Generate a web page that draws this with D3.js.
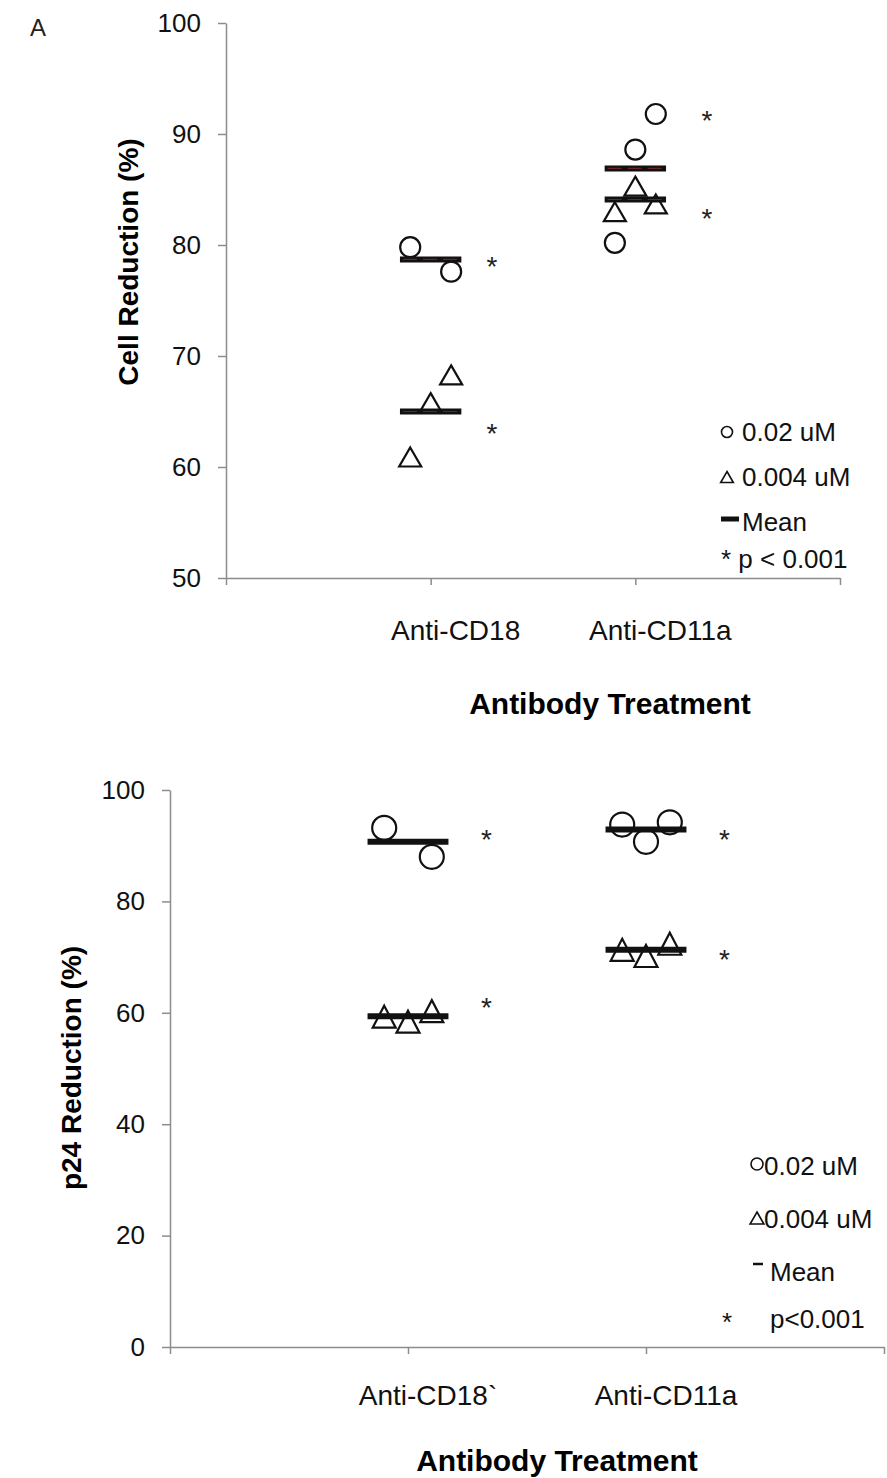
<!DOCTYPE html>
<html>
<head>
<meta charset="utf-8">
<script src="https://cdn.jsdelivr.net/npm/d3@7"></script>
<style>
  body { margin: 0; background: #fff; }
  svg { display: block; font-family: "Liberation Sans", Arial, sans-serif; }
</style>
</head>
<body>
<div id="chart"></div>
<script>
// ---- data ----
var cellCategories = ["Anti-CD18", "Anti-CD11a"];
var cellHigh = [[79.8, 77.6], [91.8, 88.6, 80.2]];      // 0.02 uM
var cellHighSlot = [[-1, 1], [1, 0, -1]];
var cellLow = [[68.3, 65.8, 60.9], [85.3, 83.7, 83.0]]; // 0.004 uM
var cellLowSlot = [[1, 0, -1], [0, 1, -1]];
var cellHighMean = [78.7, 86.9];
var cellLowMean = [65.0, 84.1];
var cellStars = [[78.5, 63.4], [91.6, 82.8]];
var cellTicks = [50, 60, 70, 80, 90, 100];

var p24Categories = ["Anti-CD18`", "Anti-CD11a"];
var p24High = [[93.2, 88.0], [93.8, 90.7, 94.2]];
var p24HighSlot = [[-1, 1], [-1, 0, 1]];
var p24Low = [[59.3, 58.4, 60.3], [71.3, 70.2, 72.4]];
var p24LowSlot = [[-1, 0, 1], [-1, 0, 1]];
var p24HighMean = [90.7, 92.9];
var p24LowMean = [59.4, 71.3];
var p24Stars = [[91.9, 61.8], [91.9, 70.4]];
var p24Ticks = [0, 20, 40, 60, 80, 100];

var width = 887, height = 1478;
var axisColor = "#8c8c8c";

var svg = d3.select("#chart").append("svg")
    .attr("width", width)
    .attr("height", height);
svg.append("rect").attr("width", width).attr("height", height).attr("fill", "#fff");

var triPath = function(w, h) { // triangle centred on its bounding box
  return "M0," + (-h / 2) + "L" + (w / 2) + "," + (h / 2) + "L" + (-w / 2) + "," + (h / 2) + "Z";
}

var drawPanel = function(o) {
  var g = svg.append("g");
  var x = d3.scaleLinear().domain([0, 3]).range(o.xRange);
  var y = d3.scaleLinear().domain(o.yDomain).range(o.yRange);

  // y axis
  var ya = g.append("g")
      .attr("transform", "translate(" + o.xRange[0] + ",0)")
      .call(d3.axisLeft(y).tickValues(o.ticks).tickSize(8).tickSizeOuter(0).tickPadding(17));
  ya.selectAll("path, line").attr("stroke", axisColor).attr("stroke-width", 1.5);
  ya.selectAll("text").attr("font-size", 26).attr("fill", "#111").attr("font-family", "Liberation Sans, Arial");

  // x axis (ticks only, labels are offset like the original)
  var xa = g.append("g")
      .attr("transform", "translate(0," + o.yRange[0] + ")")
      .call(d3.axisBottom(x).tickValues([0, 1, 2, 3]).tickSize(7).tickSizeOuter(0).tickFormat(""));
  xa.selectAll("path, line").attr("stroke", axisColor).attr("stroke-width", 1.5);

  g.selectAll(".cat")
    .data(o.categories)
    .enter().append("text")
      .attr("x", function(d, i) { return x(i + 1) + o.catShift; })
      .attr("y", o.catY)
      .attr("text-anchor", "middle")
      .attr("font-size", 28)
      .attr("fill", "#111")
      .text(function(d) { return d; });

  g.append("text")
    .attr("x", o.xTitle[0]).attr("y", o.xTitle[1])
    .attr("text-anchor", "middle")
    .attr("font-size", 30).attr("font-weight", "bold")
    .text("Antibody Treatment");

  g.append("text")
    .attr("transform", "translate(" + o.yTitle[0] + "," + o.yTitle[1] + ") rotate(-90)")
    .attr("text-anchor", "middle")
    .attr("font-size", 28).attr("font-weight", "bold")
    .text(o.yLabel);

  // markers
  o.categories.forEach(function(c, i) {
    var cx = i + 1;
    g.selectAll(".hi" + i)
      .data(o.high[i])
      .enter().append("circle")
        .attr("cx", function(d, j) { return x(cx + o.high_slot[i][j] * 0.1); })
        .attr("cy", function(d) { return y(d); })
        .attr("r", o.r)
        .attr("fill", "#fff").attr("stroke", "#111").attr("stroke-width", 2.2);
    g.selectAll(".lo" + i)
      .data(o.low[i])
      .enter().append("path")
        .attr("d", triPath(o.tw, o.th))
        .attr("transform", function(d, j) {
          return "translate(" + x(cx + o.low_slot[i][j] * 0.1) + "," + y(d) + ")";
        })
        .attr("fill", "#fff").attr("stroke", "#111").attr("stroke-width", 2.2);

    [o.highMean[i], o.lowMean[i]].forEach(function(m) {
      g.append("line")
        .attr("x1", x(cx - o.meanHalf)).attr("x2", x(cx + o.meanHalf))
        .attr("y1", y(m)).attr("y2", y(m))
        .attr("stroke", "#111").attr("stroke-width", 6);
      if (o.redDash) {
        g.append("line")
          .attr("x1", x(cx - o.meanHalf) + 3).attr("x2", x(cx + o.meanHalf) - 3)
          .attr("y1", y(m)).attr("y2", y(m))
          .attr("stroke", "#6a2424").attr("stroke-width", 1.2)
          .attr("stroke-dasharray", "14,6");
      }
    });

    g.selectAll(".star" + i)
      .data(o.stars[i])
      .enter().append("text")
        .attr("x", x(cx + o.starShift[i]))
        .attr("y", function(d) { return y(d) + 14; })
        .attr("text-anchor", "middle")
        .attr("font-size", 28).attr("fill", "#222")
        .text("*");
  });

  // legend
  var L = o.legend;
  g.append("circle").attr("cx", L.mx).attr("cy", L.rows[0]).attr("r", L.r)
    .attr("fill", "none").attr("stroke", "#111").attr("stroke-width", 1.6);
  g.append("path").attr("d", triPath(L.r * 2.3, L.r * 2))
    .attr("transform", "translate(" + L.mx + "," + L.rows[1] + ")")
    .attr("fill", "none").attr("stroke", "#111").attr("stroke-width", 1.6);
  g.append("line")
    .attr("x1", L.meanX[0]).attr("x2", L.meanX[1])
    .attr("y1", L.rows[2]).attr("y2", L.rows[2])
    .attr("stroke", "#111").attr("stroke-width", L.meanW);
  L.texts.forEach(function(t) {
    g.append("text").attr("x", t[0]).attr("y", t[1])
      .attr("font-size", 26).attr("fill", "#111").text(t[2]);
  });
}

svg.append("text").attr("x", 30).attr("y", 36).attr("font-size", 24).attr("fill", "#222").text("A");

drawPanel({
  categories: cellCategories,
  high: cellHigh, high_slot: cellHighSlot,
  low: cellLow, low_slot: cellLowSlot,
  highMean: cellHighMean, lowMean: cellLowMean,
  stars: cellStars, starShift: [0.3, 0.35],
  ticks: cellTicks,
  xRange: [226, 840], yDomain: [50, 100], yRange: [578, 23],
  catShift: 25, catY: 640,
  xTitle: [610, 714], yTitle: [138, 262],
  yLabel: "Cell Reduction (%)",
  r: 10, tw: 22, th: 19, meanHalf: 0.15, redDash: true,
  legend: {
    mx: 727, r: 5.5, rows: [432, 477, 519], meanX: [721, 739], meanW: 5,
    texts: [[742, 441, "0.02 uM"], [742, 486, "0.004 uM"], [742, 531, "Mean"], [721, 568, "* p < 0.001"]]
  }
});

drawPanel({
  categories: p24Categories,
  high: p24High, high_slot: p24HighSlot,
  low: p24Low, low_slot: p24LowSlot,
  highMean: p24HighMean, lowMean: p24LowMean,
  stars: p24Stars, starShift: [0.33, 0.33],
  ticks: p24Ticks,
  xRange: [170, 884], yDomain: [0, 100], yRange: [1347, 790],
  catShift: 20, catY: 1405,
  xTitle: [557, 1471], yTitle: [81, 1068],
  yLabel: "p24 Reduction (%)",
  r: 12, tw: 23, th: 22, meanHalf: 0.17, redDash: false,
  legend: {
    mx: 757, r: 6, rows: [1164, 1218, 1264], meanX: [753, 763], meanW: 2.5,
    texts: [[764, 1175, "0.02 uM"], [764, 1228, "0.004 uM"], [770, 1281, "Mean"], [722, 1331, "*"], [770, 1328, "p<0.001"]]
  }
});
</script>
</body>
</html>
